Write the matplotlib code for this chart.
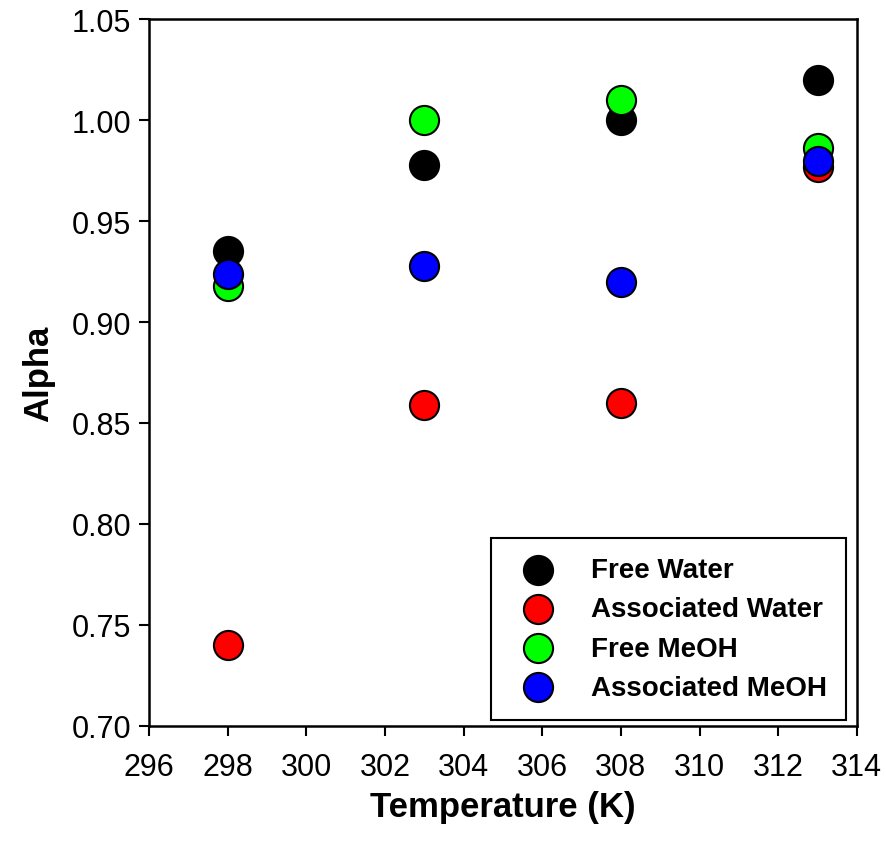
import matplotlib
matplotlib.use("Agg")
import matplotlib.pyplot as plt

plt.rcParams['font.family'] = ['Liberation Sans', 'DejaVu Sans']

# data
temps = [298, 303, 308, 313]
free_water = [0.935, 0.978, 1.000, 1.020]
assoc_water = [0.740, 0.859, 0.860, 0.977]
free_meoh = [0.918, 1.000, 1.010, 0.986]
assoc_meoh = [0.924, 0.928, 0.920, 0.980]

series = [
    ("Free Water", free_water, "#000000"),
    ("Associated Water", assoc_water, "#ff0000"),
    ("Free MeOH", free_meoh, "#00ff00"),
    ("Associated MeOH", assoc_meoh, "#0000ff"),
]

fig = plt.figure(figsize=(8.87, 8.45), dpi=100)
ax = fig.add_axes([0.168, 0.140, 0.798, 0.836])

for name, vals, col in series:
    ax.scatter(temps, vals, s=440, c=col, edgecolors="black",
               linewidths=1.5, label=name, zorder=3)

ax.set_xlim(296, 314)
ax.set_ylim(0.70, 1.05)
ax.set_xticks(range(296, 315, 2))
ax.set_yticks([0.70, 0.75, 0.80, 0.85, 0.90, 0.95, 1.00, 1.05])
ax.set_yticklabels([f"{v:.2f}" for v in ax.get_yticks()])
ax.tick_params(direction="out", length=7, width=1.5, labelsize=22)
ax.tick_params(axis="x", pad=12)
ax.tick_params(axis="y", pad=6)
for sp in ax.spines.values():
    sp.set_linewidth(1.8)

ax.set_xlabel("Temperature (K)", fontsize=25, fontweight="bold", labelpad=6)
ax.set_ylabel("Alpha", fontsize=25, fontweight="bold", labelpad=12)

leg = ax.legend(loc="lower right", bbox_to_anchor=(0.985, 0.008),
                prop={"weight": "bold", "size": 20},
                fancybox=False, edgecolor="black", framealpha=1,
                borderaxespad=0, handletextpad=0.9, labelspacing=0.47,
                borderpad=0.7, scatterpoints=1)
leg.get_frame().set_linewidth(1.5)

fig.savefig("out.png", dpi=100)
